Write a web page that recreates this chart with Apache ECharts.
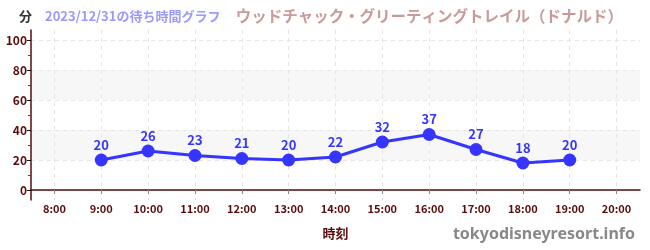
<!DOCTYPE html>
<html><head><meta charset="utf-8">
<script src="https://cdn.jsdelivr.net/npm/echarts@6/dist/echarts.min.js"></script>
<style>html,body{margin:0;padding:0;background:#fff}#c{width:650px;height:250px}</style>
</head><body><div id="c"></div>
<script>
const slots = ['7:30','8:00','8:30','9:00','9:30','10:00','10:30','11:00','11:30','12:00','12:30','13:00','13:30','14:00','14:30','15:00','15:30','16:00','16:30','17:00','17:30','18:00','18:30','19:00','19:30','20:00','20:30'];
const hours = ['9:00','10:00','11:00','12:00','13:00','14:00','15:00','16:00','17:00','18:00','19:00'];
const waits = [20,26,23,21,20,22,32,37,27,18,20];
const yTicks = [0,20,40,60,80,100];
const titleText = 'ウッドチャック・グリーティングトレイル（ドナルド）';
const subText = '2023/12/31の待ち時間グラフ';
const unitText = '分';
const xName = '時刻';
const siteText = 'tokyodisneyresort.info';

const font = "'Noto Sans CJK JP','Noto Sans',sans-serif";
const dark = '#5a0c0c';
const isHour = (i) => slots[i] && slots[i].endsWith(':00');

const chart = echarts.init(document.getElementById('c'), null, {renderer:'canvas'});
chart.setOption({
  animation: false,
  textStyle: {fontFamily: font},
  title: [
    {text: unitText, left: 14, top: 5, textStyle: {fontSize: 13, fontWeight: 'bold', color: '#333', fontFamily: font}},
    {text: subText, left: 40, top: 5, textStyle: {fontSize: 13, fontWeight: 'bold', color: '#9a9aff', fontFamily: font}},
    {text: titleText, right: 22, top: 3, textStyle: {fontSize: 15.5, fontWeight: 'bold', color: '#c99a9a', fontFamily: font}},
    {text: siteText, right: 10, top: 221, textStyle: {fontSize: 16, fontWeight: 'bold', color: '#888', fontFamily: "'Noto Sans',sans-serif"}}
  ],
  grid: {left: 31, right: 10, top: 30, bottom: 50, containLabel: false},
  xAxis: {
    type: 'category',
    data: slots,
    boundaryGap: false,
    name: xName,
    nameLocation: 'middle',
    nameGap: 27,
    nameTextStyle: {fontSize: 13, fontWeight: 'bold', color: dark, fontFamily: font},
    axisLine: {lineStyle: {color: dark, width: 1.5}},
    axisTick: {show: true, interval: (i) => isHour(i), length: 4, lineStyle: {color: '#888'}},
    axisLabel: {interval: (i) => isHour(i), fontSize: 11, fontWeight: 'bold', color: dark, margin: 3, fontFamily: font},
    splitLine: {show: true, interval: (i) => isHour(i), lineStyle: {color: '#e6e6e6', type: [4,4]}}
  },
  yAxis: {
    type: 'value',
    min: -20/3,
    max: 320/3,
    splitNumber: 5,
    axisLine: {show: true, lineStyle: {color: dark, width: 1.5}},
    axisTick: {show: true, length: 4, lineStyle: {color: '#111'}, customValues: yTicks},
    minorTick: {show: true, splitNumber: 2, length: 3, lineStyle: {color: '#e00000'}},
    axisLabel: {customValues: yTicks, fontSize: 12, fontWeight: 'bold', color: dark, margin: 4, fontFamily: font},
    splitLine: {show: true, lineStyle: {color: '#e6e6e6', type: [4,4]}},
    splitArea: {show: true, areaStyle: {color: ['rgba(0,0,0,0)','#f7f7f7']}}
  },
  series: [{
    type: 'line',
    data: hours.map((h, i) => [h, waits[i]]),
    connectNulls: true,
    symbol: 'circle',
    symbolSize: 13,
    lineStyle: {color: '#3535ff', width: 3},
    itemStyle: {color: '#3535ff'},
    label: {show: true, position: 'top', distance: 2, fontSize: 13, fontWeight: 'bold', color: '#3535ff', fontFamily: font}
  }]
});
</script></body></html>
